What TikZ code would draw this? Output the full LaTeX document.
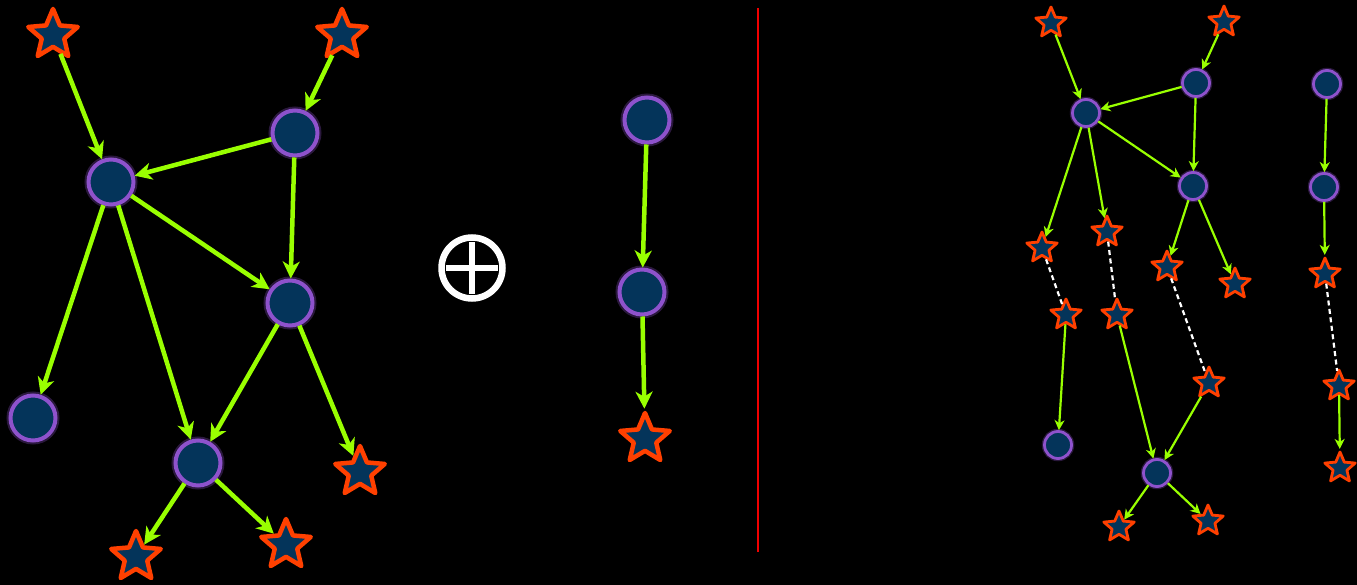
\documentclass[tikz,border=0pt]{standalone}
\usepackage{tikz}
\usetikzlibrary{arrows.meta,shapes.geometric}
\definecolor{nodenavy}{HTML}{04345A}
\definecolor{glowviolet}{HTML}{8E52CC}
\definecolor{starred}{HTML}{FF4000}
\definecolor{edgegreen}{HTML}{99FF00}
\definecolor{splitred}{HTML}{F00000}

\tikzset{
  bignode/.style={circle, inner sep=0pt, minimum size=45pt, fill=nodenavy,
    draw=glowviolet, line width=4pt,
    preaction={draw=glowviolet, line width=8pt, draw opacity=0.3}},
  smallnode/.style={circle, inner sep=0pt, minimum size=27pt, fill=nodenavy,
    draw=glowviolet, line width=2.8pt,
    preaction={draw=glowviolet, line width=5.5pt, draw opacity=0.3}},
  bigstar/.style={star, star points=5, star point ratio=2.2, inner sep=0pt,
    minimum size=52pt, fill=nodenavy, draw=starred, line width=4.5pt,
    line join=round},
  smallstar/.style={star, star points=5, star point ratio=2.2, inner sep=0pt,
    minimum size=32pt, fill=nodenavy, draw=starred, line width=2.8pt,
    line join=round},
  bigedge/.style={edgegreen, line width=4.5pt,
    -{Stealth[length=17pt,width=17pt,inset=5pt]}},
  smalledge/.style={edgegreen, line width=2.2pt,
    -{Stealth[length=10pt,width=10pt,inset=3pt]}},
  linkedge/.style={white, line width=2.2pt, dash pattern=on 5pt off 3.5pt}
}

\begin{document}
\begin{tikzpicture}[x=1pt,y=-1pt]
  \fill[black] (0,0) rectangle (1357,585);
  \useasboundingbox (0,0) rectangle (1357,585);

  % left graph
  \node[bigstar] (ls1) at (53,35) {};
  \node[bigstar] (ls2) at (342,35) {};
  \node[bignode] (lc1) at (111,182) {};
  \node[bignode] (lc2) at (295,133) {};
  \node[bignode] (lc3) at (290,303) {};
  \node[bignode] (lc4) at (33,418) {};
  \node[bignode] (lc5) at (198,463) {};
  \node[bigstar] (ls3) at (360,472) {};
  \node[bigstar] (ls4) at (136,557) {};
  \node[bigstar] (ls5) at (286,545) {};

  \draw[bigedge] (ls1) -- (lc1);
  \draw[bigedge] (ls2) -- (lc2);
  \draw[bigedge] (lc2) -- (lc1);
  \draw[bigedge] (lc2) -- (lc3);
  \draw[bigedge] (lc1) -- (lc3);
  \draw[bigedge] (lc1) -- (lc4);
  \draw[bigedge] (lc1) -- (lc5);
  \draw[bigedge] (lc3) -- (lc5);
  \draw[bigedge] (lc3) -- (ls3);
  \draw[bigedge] (lc5) -- (ls4);
  \draw[bigedge] (lc5) -- (ls5);

  % plus sign
  \node[circle, draw=white, line width=6.5pt, minimum size=61pt, inner sep=0pt]
    (oplus) at (472,268) {};
  \draw[white, line width=6pt] ([xshift=-26pt]oplus.center) -- ([xshift=26pt]oplus.center);
  \draw[white, line width=6pt] ([yshift=-26pt]oplus.center) -- ([yshift=26pt]oplus.center);

  % middle chain
  \node[bignode] (mc1) at (647,120) {};
  \node[bignode] (mc2) at (642,292) {};
  \node[bigstar] (ms1) at (645,439) {};
  \draw[bigedge] (mc1) -- (mc2);
  \draw[bigedge] (mc2) -- (ms1);

  % divider
  \coordinate (divtop) at (758,8);
  \coordinate (divbot) at (758,552);
  \draw[splitred, line width=2pt] (divtop) -- (divbot);

  % right graph
  \node[smallstar] (rs1) at (1051,23) {};
  \node[smallstar] (rs2) at (1224,22) {};
  \node[smallnode] (rc1) at (1086,113) {};
  \node[smallnode] (rc2) at (1196,83) {};
  \node[smallnode] (rc3) at (1193,186) {};
  \node[smallnode] (rc4) at (1327,84) {};
  \node[smallnode] (rc5) at (1324,187) {};
  \node[smallstar] (rs3) at (1042,248) {};
  \node[smallstar] (rs4) at (1107,232) {};
  \node[smallstar] (rs5) at (1167,267) {};
  \node[smallstar] (rs6) at (1235,284) {};
  \node[smallstar] (rs7) at (1325,274) {};
  \node[smallstar] (rs8) at (1066,315) {};
  \node[smallstar] (rs9) at (1117,315) {};
  \node[smallstar] (rs10) at (1209,383) {};
  \node[smallstar] (rs11) at (1339,386) {};
  \node[smallnode] (rc6) at (1058,445) {};
  \node[smallnode] (rc7) at (1157,473) {};
  \node[smallstar] (rs12) at (1340,468) {};
  \node[smallstar] (rs13) at (1119,527) {};
  \node[smallstar] (rs14) at (1208,521) {};

  \draw[smalledge] (rs1) -- (rc1);
  \draw[smalledge] (rs2) -- (rc2);
  \draw[smalledge] (rc2) -- (rc1);
  \draw[smalledge] (rc2) -- (rc3);
  \draw[smalledge] (rc1) -- (rc3);
  \draw[smalledge] (rc1) -- (rs3);
  \draw[smalledge] (rc1) -- (rs4);
  \draw[smalledge] (rc3) -- (rs5);
  \draw[smalledge] (rc3) -- (rs6);
  \draw[smalledge] (rc4) -- (rc5);
  \draw[smalledge] (rc5) -- (rs7);
  \draw[linkedge] (rs3) -- (rs8);
  \draw[linkedge] (rs4) -- (rs9);
  \draw[linkedge] (rs5) -- (rs10);
  \draw[linkedge] (rs7) -- (rs11);
  \draw[smalledge] (rs8) -- (rc6);
  \draw[smalledge] (rs9) -- (rc7);
  \draw[smalledge] (rs10) -- (rc7);
  \draw[smalledge] (rc7) -- (rs13);
  \draw[smalledge] (rc7) -- (rs14);
  \draw[smalledge] (rs11) -- (rs12);
\end{tikzpicture}
\end{document}
